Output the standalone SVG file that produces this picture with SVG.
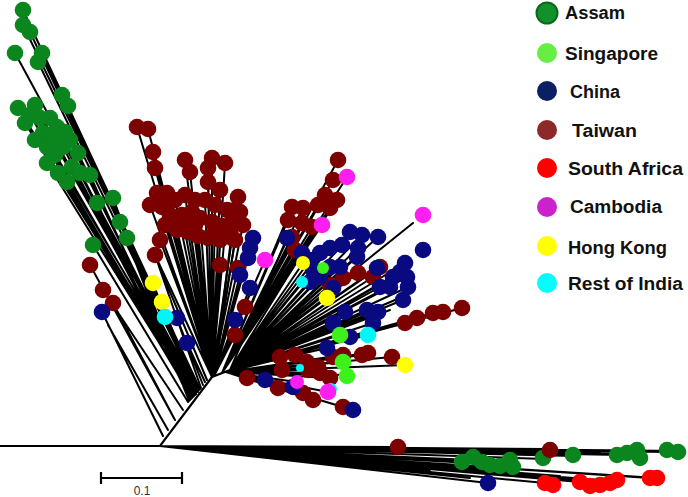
<svg xmlns="http://www.w3.org/2000/svg" width="688" height="497" viewBox="0 0 688 497">
<style>
.br{fill:none;stroke:#000;stroke-width:2;stroke-linecap:round}
.bk{fill:none;stroke:#000;stroke-width:2.2}
.lf circle{r:8.3px}
.as{fill:#0b861e}
.tw{fill:#7d0000}
.cn{fill:#0a0a80}
.sg{fill:#3df21a}
.hk{fill:#ffff00}
.ri{fill:#00f7f7}
.cb{fill:#ff1ef0}
.sa{fill:#ff0000}
.lg{font-family:"Liberation Sans",Arial,sans-serif;font-weight:bold;font-size:18px;fill:#111}
.sc{font-family:"Liberation Sans",Arial,sans-serif;font-size:12px;fill:#333}
</style>
<rect width="688" height="497" fill="#fff"/>
<g id="connectors">
<path class="bk" d="M0 446 L160 446 L212 377 L230 370"/>
<path class="br" d="M200 389 L23 10 M200 389 L23 25 M199 390 L30 32 M198 391 L15 53 M199 390 L42 53 M198 391 L38 62 M197 392 L62 95 M197 392 L68 106 M196 393 L18 108 M196 393 L35 105 M195 395 L25 123 M195 395 L43 133 M195 395 L57 127 M196 394 L65 132 M194 396 L47 147 M194 396 L63 147 M194 396 L78 153 M193 397 L47 163 M193 397 L72 167 M192 398 L58 173 M192 398 L67 182 M192 398 L80 173 M191 399 L90 175 M190 400 L97 203 M190 400 L113 198 M189 401 L120 222 M189 401 L127 238 M188 402 L93 245 M197 392 L50 118 M197 392 L40 118 M195 395 L55 140 M195 395 L70 140 M196 393 L30 115"/>
<path class="br" d="M175 420 L90 265 M183 410 L103 290 M175 420 L113 303 M163 436 L102 312 M168 430 L108 325 M201 388 L155 255 M196 394 L153 283 M196 394 L162 302 M198 392 L165 317 M203 385 L177 318 M205 382 L187 343 M207 380 L160 268"/>
<path class="br" d="M212 377 L137 127 M212 377 L148 129 M212 377 L153 152 M212 377 L155 168 M212 377 L190 172 M212 377 L185 160 M212 377 L212 158 M212 377 L225 163 M212 377 L208 168 M212 377 L208 182 M212 377 L220 190 M212 377 L238 197 M212 377 L157 193 M212 377 L167 193 M212 377 L150 205 M212 377 L162 207 M212 377 L175 200 M212 377 L185 195 M212 377 L195 200 M212 377 L205 200 M212 377 L215 205 M212 377 L227 210 M212 377 L240 212 M212 377 L170 215 M212 377 L182 215 M212 377 L192 212 M212 377 L200 218 M212 377 L165 225 M212 377 L177 230 M212 377 L188 232 M212 377 L155 255 M212 377 L220 265 M212 377 L160 240 M212 377 L243 225"/>
<path class="br" d="M214 376 L235 210 M214 376 L233 223 M214 376 L235 240 M214 376 L238 268 M214 376 L245 307 M214 376 L235 335 M214 376 L253 238 M214 376 L250 248 M214 376 L248 258 M214 376 L240 275 M214 376 L250 288 M214 376 L235 320 M214 376 L265 260"/>
<path class="br" d="M222 373 L338 160 M222 373 L333 180 M222 373 L292 207 M222 373 L303 208 M222 373 L318 205 M222 373 L330 208 M222 373 L337 200 M222 373 L288 220 M222 373 L302 223 M222 373 L312 227 M222 373 L292 237 M222 373 L295 250 M222 373 L325 195 M222 373 L347 177 M222 373 L322 225"/>
<path class="br" d="M230 370 L287 238 M230 370 L302 253 M230 370 L310 260 M230 370 L320 253 M230 370 L330 248 M230 370 L342 245 M230 370 L358 248 M230 370 L362 235 M230 370 L378 237 M230 370 L357 257 M230 370 L330 267 M230 370 L340 267 M230 370 L313 270 M230 370 L310 282 M230 370 L320 277 M230 370 L333 288 M230 370 L377 268 M230 370 L405 263 M230 370 L407 277 M230 370 L400 272 M230 370 L408 287 M230 370 L403 300 M230 370 L380 287 M230 370 L390 287 M230 370 L393 277 M230 370 L345 312 M230 370 L367 310 M230 370 L378 312 M230 370 L373 323 M230 370 L333 323 M230 370 L350 337 M230 370 L327 348 M230 370 L380 267 M230 370 L373 277 M230 370 L343 278 M230 370 L358 273 M230 370 L330 285 M230 370 L405 323 M230 370 L417 318 M230 370 L433 313 M230 370 L443 312 M230 370 L462 308 M230 370 L303 263 M230 370 L327 298 M230 370 L323 268 M230 370 L302 282 M230 370 L368 335 M230 370 L413 223 M230 370 L340 335 M230 370 L395 300 M230 370 L390 310"/>
<path class="br" d="M226 372 L280 357 M226 372 L295 355 M226 372 L307 362 M226 372 L318 367 M226 372 L333 357 M226 372 L343 355 M226 372 L362 355 M226 372 L368 353 M226 372 L392 357 M226 372 L247 378 M226 372 L278 388 M226 372 L282 370 M226 372 L303 393 M226 372 L313 400 M226 372 L308 370 M226 372 L320 373 M226 372 L330 378 M226 372 L343 407 M226 372 L405 365 M226 372 L343 362 M226 372 L347 375 M226 372 L265 380 M226 372 L293 387 M226 372 L353 410 M226 372 L297 382 M226 372 L328 392"/>
<path class="br" d="M160 446 L398 447 M160 446 L550 449 M160 446 L682 451 M160 446 L667 452 M160 446 L640 454 M160 446 L620 455 M160 446 L575 456 M160 446 L545 459 M160 446 L515 462 M160 446 L490 464 M160 446 L470 462 M160 446 L460 465 M160 446 L488 483 M160 446 L470 478 M160 446 L545 483 M160 446 L580 482 M160 446 L610 483 M160 446 L650 478 M160 446 L657 478 M160 446 L430 470 M160 446 L500 470 M160 446 L600 480 M160 446 L520 474 M160 446 L560 476 M160 446 L440 460 M160 446 L400 458 M160 446 L420 465 M160 446 L450 452 M160 446 L530 454 M160 446 L600 452"/>
</g>
<g id="assam-leaves" class="lf as">
<circle cx="23" cy="10" r="8"/><circle cx="23" cy="25" r="8"/><circle cx="30" cy="32" r="8"/><circle cx="15" cy="53" r="8"/><circle cx="42" cy="53" r="8"/><circle cx="38" cy="62" r="8"/><circle cx="62" cy="95" r="8"/><circle cx="68" cy="106" r="8"/><circle cx="18" cy="108" r="8"/><circle cx="35" cy="105" r="8"/><circle cx="25" cy="123" r="8"/><circle cx="43" cy="133" r="8"/><circle cx="57" cy="127" r="8"/><circle cx="65" cy="132" r="8"/><circle cx="47" cy="147" r="8"/><circle cx="63" cy="147" r="8"/><circle cx="78" cy="153" r="8"/><circle cx="47" cy="163" r="8"/><circle cx="72" cy="167" r="8"/><circle cx="58" cy="173" r="8"/><circle cx="67" cy="182" r="8"/><circle cx="80" cy="173" r="8"/><circle cx="90" cy="175" r="8"/><circle cx="97" cy="203" r="8"/><circle cx="113" cy="198" r="8"/><circle cx="120" cy="222" r="8"/><circle cx="127" cy="238" r="8"/><circle cx="93" cy="245" r="8"/><circle cx="50" cy="118" r="8"/><circle cx="40" cy="118" r="8"/><circle cx="55" cy="140" r="8"/><circle cx="70" cy="140" r="8"/><circle cx="30" cy="115" r="8"/><circle cx="55" cy="155" r="8"/><circle cx="35" cy="140" r="8"/>
<circle cx="462" cy="462" r="8"/><circle cx="473" cy="457" r="8"/><circle cx="482" cy="462" r="8"/><circle cx="490" cy="465" r="8"/><circle cx="510" cy="460" r="8"/><circle cx="513" cy="467" r="8"/><circle cx="543" cy="458" r="8"/><circle cx="573" cy="455" r="8"/><circle cx="617" cy="455" r="8"/><circle cx="627" cy="453" r="8"/><circle cx="637" cy="450" r="8"/><circle cx="640" cy="458" r="8"/><circle cx="667" cy="450" r="8"/><circle cx="678" cy="452" r="8"/><circle cx="500" cy="466" r="8"/>
</g>
<g id="taiwan-leaves" class="lf tw">
<circle cx="137" cy="127" r="8"/><circle cx="148" cy="129" r="8"/><circle cx="153" cy="152" r="8"/><circle cx="155" cy="168" r="8"/><circle cx="190" cy="172" r="8"/><circle cx="185" cy="160" r="8"/><circle cx="212" cy="158" r="8"/><circle cx="225" cy="163" r="8"/><circle cx="208" cy="168" r="8"/><circle cx="208" cy="182" r="8"/><circle cx="220" cy="190" r="8"/><circle cx="238" cy="197" r="8"/><circle cx="157" cy="193" r="8"/><circle cx="167" cy="193" r="8"/><circle cx="150" cy="205" r="8"/><circle cx="162" cy="207" r="8"/><circle cx="175" cy="200" r="8"/><circle cx="185" cy="195" r="8"/><circle cx="195" cy="200" r="8"/><circle cx="205" cy="200" r="8"/><circle cx="215" cy="205" r="8"/><circle cx="227" cy="210" r="8"/><circle cx="240" cy="212" r="8"/><circle cx="170" cy="215" r="8"/><circle cx="182" cy="215" r="8"/><circle cx="192" cy="212" r="8"/><circle cx="200" cy="218" r="8"/><circle cx="212" cy="222" r="8"/><circle cx="222" cy="226" r="8"/><circle cx="232" cy="226" r="8"/><circle cx="165" cy="225" r="8"/><circle cx="177" cy="230" r="8"/><circle cx="188" cy="232" r="8"/><circle cx="198" cy="236" r="8"/><circle cx="208" cy="238" r="8"/><circle cx="220" cy="240" r="8"/><circle cx="232" cy="238" r="8"/><circle cx="155" cy="255" r="8"/><circle cx="220" cy="265" r="8"/><circle cx="160" cy="240" r="8"/><circle cx="243" cy="225" r="8"/><circle cx="195" cy="225" r="8"/><circle cx="215" cy="232" r="8"/><circle cx="180" cy="222" r="8"/>
<circle cx="90" cy="265" r="8"/><circle cx="103" cy="290" r="8"/><circle cx="113" cy="303" r="8"/>
<circle cx="235" cy="210" r="8"/><circle cx="233" cy="223" r="8"/><circle cx="235" cy="240" r="8"/><circle cx="238" cy="268" r="8"/><circle cx="245" cy="307" r="8"/><circle cx="235" cy="335" r="8"/>
<circle cx="338" cy="160" r="8"/><circle cx="333" cy="180" r="8"/><circle cx="292" cy="207" r="8"/><circle cx="303" cy="208" r="8"/><circle cx="318" cy="205" r="8"/><circle cx="330" cy="208" r="8"/><circle cx="337" cy="200" r="8"/><circle cx="288" cy="220" r="8"/><circle cx="302" cy="223" r="8"/><circle cx="312" cy="227" r="8"/><circle cx="292" cy="237" r="8"/><circle cx="295" cy="250" r="8"/><circle cx="325" cy="195" r="8"/>
<circle cx="380" cy="267" r="8"/><circle cx="373" cy="277" r="8"/><circle cx="343" cy="278" r="8"/><circle cx="358" cy="273" r="8"/><circle cx="330" cy="285" r="8"/><circle cx="405" cy="323" r="8"/><circle cx="417" cy="318" r="8"/><circle cx="433" cy="313" r="8"/><circle cx="443" cy="312" r="8"/><circle cx="462" cy="308" r="8"/>
<circle cx="280" cy="357" r="8"/><circle cx="295" cy="355" r="8"/><circle cx="307" cy="362" r="8"/><circle cx="318" cy="367" r="8"/><circle cx="333" cy="357" r="8"/><circle cx="343" cy="355" r="8"/><circle cx="362" cy="355" r="8"/><circle cx="368" cy="353" r="8"/><circle cx="392" cy="357" r="8"/><circle cx="247" cy="378" r="8"/><circle cx="278" cy="388" r="8"/><circle cx="282" cy="370" r="8"/><circle cx="303" cy="393" r="8"/><circle cx="313" cy="400" r="8"/><circle cx="308" cy="370" r="8"/><circle cx="320" cy="373" r="8"/><circle cx="330" cy="378" r="8"/><circle cx="343" cy="407" r="8"/>
<circle cx="398" cy="447" r="8"/><circle cx="550" cy="450" r="8"/>
</g>
<g id="china-leaves" class="lf cn">
<circle cx="102" cy="312" r="8"/><circle cx="177" cy="318" r="8"/><circle cx="187" cy="343" r="8"/>
<circle cx="253" cy="238" r="8"/><circle cx="250" cy="248" r="8"/><circle cx="248" cy="258" r="8"/><circle cx="240" cy="275" r="8"/><circle cx="250" cy="288" r="8"/><circle cx="235" cy="320" r="8"/>
<circle cx="287" cy="238" r="8"/><circle cx="302" cy="253" r="8"/><circle cx="310" cy="260" r="8"/><circle cx="320" cy="253" r="8"/><circle cx="330" cy="248" r="8"/><circle cx="342" cy="245" r="8"/><circle cx="358" cy="248" r="8"/><circle cx="362" cy="235" r="8"/><circle cx="378" cy="237" r="8"/><circle cx="357" cy="257" r="8"/><circle cx="330" cy="267" r="8"/><circle cx="340" cy="267" r="8"/><circle cx="313" cy="270" r="8"/><circle cx="310" cy="282" r="8"/><circle cx="320" cy="277" r="8"/><circle cx="333" cy="288" r="8"/><circle cx="377" cy="268" r="8"/><circle cx="405" cy="263" r="8"/><circle cx="407" cy="277" r="8"/><circle cx="400" cy="272" r="8"/><circle cx="408" cy="287" r="8"/><circle cx="403" cy="300" r="8"/><circle cx="380" cy="287" r="8"/><circle cx="390" cy="287" r="8"/><circle cx="393" cy="277" r="8"/><circle cx="345" cy="312" r="8"/><circle cx="367" cy="310" r="8"/><circle cx="378" cy="312" r="8"/><circle cx="373" cy="323" r="8"/><circle cx="333" cy="323" r="8"/><circle cx="350" cy="337" r="8"/><circle cx="327" cy="348" r="8"/><circle cx="423" cy="250" r="8"/><circle cx="350" cy="232" r="8"/>
<circle cx="265" cy="380" r="8"/><circle cx="293" cy="387" r="8"/><circle cx="353" cy="410" r="8"/>
<circle cx="488" cy="483" r="8"/>
</g>
<g id="singapore-leaves" class="lf sg">
<circle cx="323" cy="268" r="6" style="r:6px"/><circle cx="340" cy="335" r="8"/><circle cx="343" cy="362" r="8"/><circle cx="347" cy="376" r="8"/>
</g>
<g id="hongkong-leaves" class="lf hk">
<circle cx="153" cy="283" r="8"/><circle cx="162" cy="302" r="8"/><circle cx="303" cy="263" r="7" style="r:7px"/><circle cx="327" cy="298" r="8"/><circle cx="405" cy="365" r="8"/>
</g>
<g id="india-leaves" class="lf ri">
<circle cx="165" cy="317" r="8"/><circle cx="302" cy="282" r="6" style="r:6px"/><circle cx="368" cy="335" r="8"/><circle cx="300" cy="368" r="4" style="r:4px"/><circle cx="331" cy="389" r="6" style="r:6px"/>
</g>
<g id="cambodia-leaves" class="lf cb">
<circle cx="347" cy="177" r="8"/><circle cx="322" cy="225" r="8"/><circle cx="265" cy="260" r="8"/><circle cx="423" cy="215" r="8"/><circle cx="297" cy="382" r="7" style="r:7px"/><circle cx="328" cy="392" r="8"/>
</g>
<g id="safrica-leaves" class="lf sa">
<circle cx="545" cy="483" r="8"/><circle cx="553" cy="485" r="8"/><circle cx="580" cy="482" r="8"/><circle cx="590" cy="486" r="8"/><circle cx="600" cy="485" r="8"/><circle cx="610" cy="483" r="8"/><circle cx="617" cy="480" r="8"/><circle cx="650" cy="478" r="8"/><circle cx="657" cy="478" r="8"/>
</g>
<g id="scale-bar">
<path d="M100 478 H183 M101 472 V484 M182 472 V484" fill="none" stroke="#000" stroke-width="2.2"/>
<text class="sc" x="142" y="495" text-anchor="middle">0.1</text>
</g>
<g id="legend">
<circle cx="547" cy="13" r="10.5" fill="#12902a" stroke="#0a6a1a" stroke-width="2"/>
<text class="lg" x="565" y="19" textLength="60" lengthAdjust="spacingAndGlyphs">Assam</text>
<circle cx="547" cy="53" r="10" fill="#66ee44"/>
<text class="lg" x="565" y="60" textLength="93" lengthAdjust="spacingAndGlyphs">Singapore</text>
<circle cx="547" cy="91" r="10" fill="#0b1f62"/>
<text class="lg" x="570" y="98" textLength="50" lengthAdjust="spacingAndGlyphs">China</text>
<circle cx="547" cy="130" r="10" fill="#8c2a2a"/>
<text class="lg" x="572" y="137" textLength="65" lengthAdjust="spacingAndGlyphs">Taiwan</text>
<circle cx="547" cy="168" r="10" fill="#ff0000"/>
<text class="lg" x="568" y="175" textLength="115" lengthAdjust="spacingAndGlyphs">South Africa</text>
<circle cx="547" cy="207" r="10" fill="#cc22cc"/>
<text class="lg" x="570" y="213" textLength="92" lengthAdjust="spacingAndGlyphs">Cambodia</text>
<circle cx="547" cy="246" r="10" fill="#ffff00"/>
<text class="lg" x="568" y="254" textLength="99" lengthAdjust="spacingAndGlyphs">Hong Kong</text>
<circle cx="547" cy="283" r="10" fill="#00ffff"/>
<text class="lg" x="568" y="290" textLength="115" lengthAdjust="spacingAndGlyphs">Rest of India</text>
</g>
</svg>
